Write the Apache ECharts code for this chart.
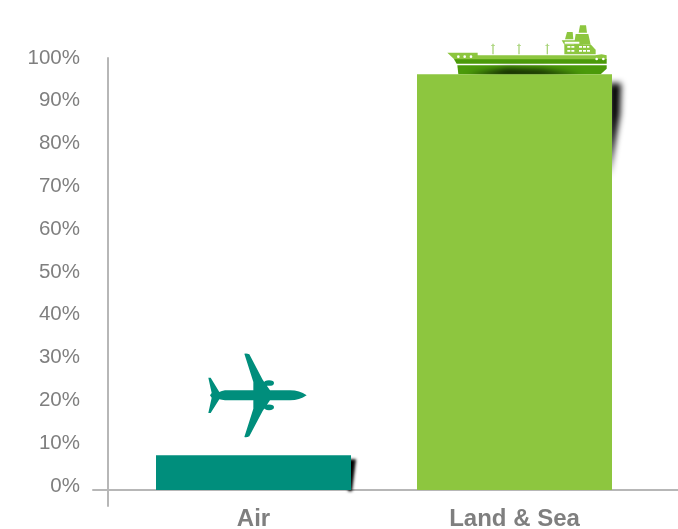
<!DOCTYPE html>
<html><head><meta charset="utf-8">
<style>html,body{margin:0;padding:0;background:#fff}#c{width:678px;height:529px}</style>
<script src="https://cdn.jsdelivr.net/npm/echarts@6/dist/echarts.min.js"></script>
</head><body><div id="c"></div>
<script>
const categories = ['Air', 'Land & Sea'];
const shares = [8, 96];
const barColors = ['#008e7c', '#8dc63f'];
const tickStep = 10;
const yMax = 100;

const PLANE = 'M350,165 C335,155 320,150 300,150 L240,150 L218,118 L178,42 Q170,38 163,40 L190,125 L190,150 L105,150 Q95,152 88,155 L62,112 L55,112 L65,158 L60,165 L65,172 L55,218 L62,218 L88,177 Q95,178 105,180 L190,180 L190,205 L163,290 Q170,292 178,288 L218,212 L240,180 L300,180 C320,180 335,175 350,165 Z M222,128 a15,8.5 0 1,0 30,0 a15,8.5 0 1,0 -30,0 Z M222,201 a15,8.5 0 1,0 30,0 a15,8.5 0 1,0 -30,0 Z';
const SHIP = [
  ['#8dc63f', 'M52,112 L143,112 L143,120 L495,120 L515,117 L530,120 L530,134 L75,134 Z'],
  ['#4b9a0a', 'M72,132 L530,132 L530,145 L80,145 Z'],
  ['#4b9a0a', 'M82,150 L530,150 L530,160 L512,177 L85,177 Z'],
  ['#8dc63f', 'M403,88 L483,88 L497,103 L497,117 L403,117 Z'],
  ['#8dc63f', 'M395,75 L465,75 L458,88 L403,88 Z'],
  ['#8dc63f', 'M405,72 L411,50 L428,50 L430,72 Z'],
  ['#8dc63f', 'M432,88 L437,56 L475,56 L482,88 Z'],
  ['#8dc63f', 'M446,52 L450,30 L468,30 L471,52 Z'],
  ['#a9d47a', 'M187,85 H191 V117 H187 Z M265,85 H269 V117 H265 Z M350,85 H354 V117 H350 Z M183,90 H195 V92 H183 Z M261,90 H273 V92 H261 Z M346,90 H358 V92 H346 Z'],
  ['#ffffff', 'M81,124 a4,4 0 1,0 8,0 a4,4 0 1,0 -8,0 Z M100,124 a4,4 0 1,0 8,0 a4,4 0 1,0 -8,0 Z M119,124 a4,4 0 1,0 8,0 a4,4 0 1,0 -8,0 Z M496,131 a4,4 0 1,0 8,0 a4,4 0 1,0 -8,0 Z M516,131 a4,4 0 1,0 8,0 a4,4 0 1,0 -8,0 Z'],
  ['#ffffff', 'M412,92 h9 v5 h-9 Z M424,92 h9 v5 h-9 Z M447,92 h9 v5 h-9 Z M459,92 h9 v5 h-9 Z M471,92 h7 v5 h-7 Z M412,104 h9 v5 h-9 Z M424,104 h9 v5 h-9 Z M447,104 h9 v5 h-9 Z M459,104 h9 v5 h-9 Z M471,104 h9 v5 h-9 Z M404,79 h44 v6 h-44 Z']
];

const OFF = 2000;
function blurred(points, blur) {
  return { type: 'polygon', x: -OFF, shape: { points }, style: { fill: '#000', shadowColor: '#000', shadowBlur: blur, shadowOffsetX: OFF } };
}
function renderShadow(params, api) {
  const i = api.value(0);
  const top = api.coord([i, api.value(1)]);
  const half = api.size([1, 0])[0] * 195 / 261 / 2;
  const r = top[0] + half, y = top[1];
  if (i === 0) return { type: 'group', children: [blurred([[r - 3, y + 4], [r + 5, y + 4], [r + 1, y + 36], [r - 3, y + 36]], 3)] };
  return { type: 'group', children: [
    blurred([[r - 3, y + 9], [r + 9, y + 9], [r + 8, y + 40], [r - 3, y + 102]], 6),
    blurred([[r - 145, y + 1], [r - 105, y - 5], [r - 70, y - 4], [r - 30, y + 1]], 6)
  ] };
}
function renderIcon(params, api) {
  const i = api.value(0);
  const top = api.coord([i, api.value(1)]);
  if (i === 0) {
    return { type: 'path', x: top[0] - 63.5, y: top[1] - 115, scaleX: 1 / 3, scaleY: 1 / 3,
      shape: { pathData: PLANE }, style: { fill: barColors[0] } };
  }
  return { type: 'group', x: top[0] - 84.5, y: top[1] - 59, scaleX: 1 / 3, scaleY: 1 / 3,
    children: SHIP.map(([fill, pathData]) => ({ type: 'path', shape: { pathData }, style: { fill } })) };
}
const points = categories.map((c, i) => [i, shares[i]]);
const hidden = { show: false };

const chart = echarts.init(document.getElementById('c'), null, { renderer: 'canvas' });
chart.setOption({
  animation: false,
  backgroundColor: '#fff',
  grid: [
    { left: 123, width: 522, top: 57, height: 433, outerBoundsMode: 'none' },
    { left: 93, right: 0, top: 57, height: 433, outerBoundsMode: 'none' },
    { left: 108, width: 10, top: 58, height: 448, outerBoundsMode: 'none' },
    { left: 108, width: 10, top: 58, height: 428, outerBoundsMode: 'none' }
  ],
  xAxis: [
    { gridIndex: 0, type: 'category', data: categories, axisLine: hidden, axisTick: hidden,
      axisLabel: { margin: 17, color: '#7f7f7f', fontFamily: 'Liberation Sans', fontWeight: 'bold', fontSize: 24 } },
    { gridIndex: 1, type: 'value', min: 0, max: 1, splitLine: hidden, axisTick: hidden, axisLabel: hidden,
      axisLine: { show: true, onZero: false, lineStyle: { color: '#b7b7b7', width: 2 } } },
    { gridIndex: 2, type: 'value', min: 0, max: 1, show: false },
    { gridIndex: 3, type: 'value', min: 0, max: 1, show: false }
  ],
  yAxis: [
    { gridIndex: 0, type: 'value', min: 0, max: yMax, show: false },
    { gridIndex: 1, type: 'value', min: 0, max: yMax, show: false },
    { gridIndex: 2, type: 'value', min: 0, max: 1, splitLine: hidden, axisTick: hidden, axisLabel: hidden,
      axisLine: { show: true, onZero: false, lineStyle: { color: '#b7b7b7', width: 2 } } },
    { gridIndex: 3, type: 'value', min: 0, max: yMax, interval: tickStep, splitLine: hidden, axisTick: hidden, axisLine: hidden,
      axisLabel: { margin: 28, color: '#7f7f7f', fontFamily: 'Liberation Sans', fontSize: 20.5, formatter: '{value}%' } }
  ],
  series: [
    { type: 'custom', xAxisIndex: 0, yAxisIndex: 0, z: 2, silent: true, clip: false,
      renderItem: renderShadow, data: points },
    { type: 'custom', xAxisIndex: 0, yAxisIndex: 0, z: 1, silent: true, clip: false,
      renderItem: renderIcon, data: points },
    { type: 'bar', xAxisIndex: 0, yAxisIndex: 0, z: 3, barWidth: 195,
      data: shares.map((v, i) => ({ value: v, itemStyle: { color: barColors[i] } })) }
  ]
});
</script></body></html>
